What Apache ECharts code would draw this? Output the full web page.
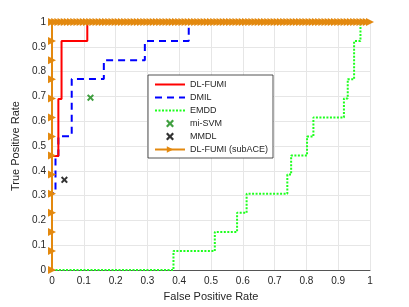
<!DOCTYPE html>
<html>
<head>
<meta charset="utf-8">
<script src="https://cdn.jsdelivr.net/npm/echarts@6/dist/echarts.min.js"></script>
<style>html,body{margin:0;padding:0;background:#fff}#c{width:409px;height:307px}</style>
</head>
<body>
<div id="c"></div>
<script>
// ---- data ----
const tickValues = [0,0.1,0.2,0.3,0.4,0.5,0.6,0.7,0.8,0.9,1];
const dlFumi = [[0,0],[0,0.46],[0.02,0.46],[0.02,0.69],[0.03,0.69],[0.03,0.923],[0.111,0.923],[0.111,1],[1,1]];
const dmil = [[0,0],[0,0.31],[0.011,0.31],[0.011,0.46],[0.02,0.46],[0.02,0.54],[0.062,0.54],[0.062,0.77],[0.163,0.77],[0.163,0.846],[0.292,0.846],[0.292,0.923],[0.43,0.923],[0.43,1],[1,1]];
const emdd = [[0,0],[0.382,0],[0.382,0.077],[0.512,0.077],[0.512,0.154],[0.582,0.154],[0.582,0.231],[0.612,0.231],[0.612,0.308],[0.74,0.308],[0.74,0.385],[0.752,0.385],[0.752,0.462],[0.802,0.462],[0.802,0.538],[0.822,0.538],[0.822,0.615],[0.918,0.615],[0.918,0.692],[0.93,0.692],[0.93,0.769],[0.95,0.769],[0.95,0.923],[0.97,0.923],[0.97,1],[1,1]];
const miSvm = [[0.121,0.695]];
const mmdl = [[0.039,0.364]];
const subAceY = [0,0.077,0.154,0.231,0.308,0.385,0.462,0.538,0.615,0.692,0.769,0.846,0.923];
const subAceTopX = [0,0.01,0.02,0.03,0.04,0.05,0.06,0.07,0.08,0.09,0.1,0.11,0.12,0.13,0.14,0.15,0.16,0.17,0.18,0.19,0.2,0.21,0.22,0.23,0.24,0.25,0.26,0.27,0.28,0.29,0.3,0.31,0.32,0.33,0.34,0.35,0.36,0.37,0.38,0.39,0.4,0.41,0.42,0.43,0.44,0.45,0.46,0.47,0.48,0.49,0.5,0.51,0.52,0.53,0.54,0.55,0.56,0.57,0.58,0.59,0.6,0.61,0.62,0.63,0.64,0.65,0.66,0.67,0.68,0.69,0.7,0.71,0.72,0.73,0.74,0.75,0.76,0.77,0.78,0.79,0.8,0.81,0.82,0.83,0.84,0.85,0.86,0.87,0.88,0.89,0.9,0.91,0.92,0.93,0.94,0.95,0.96,0.97,0.98,0.99,1];

const subAce = subAceY.map(y => [0, y]).concat(subAceTopX.map(x => [x, 1]));

const xShape = 'path://M2,0 L5,3 L8,0 L10,2 L7,5 L10,8 L8,10 L5,7 L2,10 L0,8 L3,5 L0,2 Z';
const txt = '#262626';
const font = 'Liberation Sans';
const hideSym = {color: 'transparent', borderWidth: 0, borderColor: 'transparent'};

const chart = echarts.init(document.getElementById('c'), null, {renderer: 'canvas'});
const axisCommon = {
  type: 'value', min: 0, max: 1, interval: 0.1,
  nameLocation: 'middle',
  nameTextStyle: {color: txt, fontSize: 11, fontFamily: font},
  axisLine: {show: true, lineStyle: {color: '#555', width: 1}},
  axisTick: {show: false},
  axisLabel: {color: txt, fontSize: 10, fontFamily: font, margin: 6, formatter: v => String(+(+v).toFixed(1))},
  splitLine: {show: true, lineStyle: {color: '#e6e6e6', width: 1}}
};
chart.setOption({
  animation: false,
  grid: {left: 52, right: 39, top: 22, bottom: 34},
  xAxis: Object.assign({}, axisCommon, {name: 'False Positive Rate', nameGap: 19}),
  yAxis: Object.assign({}, axisCommon, {name: 'True Positive Rate', nameGap: 20}),
  legend: {
    orient: 'vertical', left: 148, top: 75,
    itemWidth: 30, itemHeight: 8, itemGap: 4,
    padding: [5, 5, 4, 6],
    backgroundColor: '#fff', borderColor: '#262626', borderWidth: 0.8,
    textStyle: {color: txt, fontSize: 9, fontFamily: font},
    data: [
      {name: 'DL-FUMI', itemStyle: hideSym},
      {name: 'DMIL', itemStyle: hideSym},
      {name: 'EMDD', itemStyle: hideSym},
      'mi-SVM', 'MMDL', 'DL-FUMI (subACE)'
    ]
  },
  series: [
    {name: 'EMDD', type: 'line', data: emdd, symbol: 'none', clip: false,
     lineStyle: {color: '#1eff1e', width: 2, type: [2, 1.5]}, itemStyle: {color: '#1eff1e'}},
    {name: 'DMIL', type: 'line', data: dmil, symbol: 'none', clip: false,
     lineStyle: {color: '#0000ff', width: 2, type: [7, 5]}, itemStyle: {color: '#0000ff'}},
    {name: 'DL-FUMI', type: 'line', data: dlFumi, symbol: 'none', clip: false,
     lineStyle: {color: '#ff0000', width: 2}, itemStyle: {color: '#ff0000'}},
    {name: 'mi-SVM', type: 'scatter', data: miSvm, symbol: xShape, symbolSize: 7,
     itemStyle: {color: '#118811'}},
    {name: 'MMDL', type: 'scatter', data: mmdl, symbol: xShape, symbolSize: 7,
     itemStyle: {color: '#000'}},
    {name: 'DL-FUMI (subACE)', type: 'line', data: subAce, symbol: 'triangle', symbolRotate: -90,
     symbolSize: 8, showAllSymbol: true, clip: false,
     lineStyle: {color: '#e3890f', width: 2}, itemStyle: {color: '#e3890f'}}
  ]
});
</script>
</body>
</html>
